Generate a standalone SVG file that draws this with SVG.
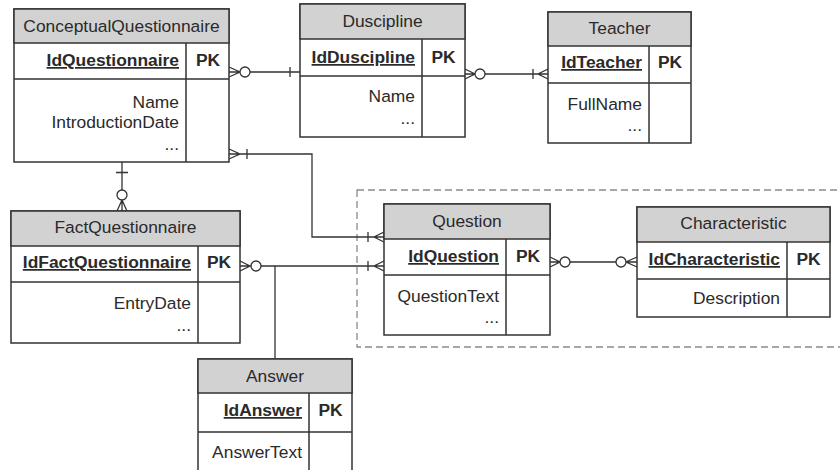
<svg xmlns="http://www.w3.org/2000/svg" width="840" height="470" viewBox="0 0 840 470">
  <style>
    text { font-family: "Liberation Sans", Arial, sans-serif; font-size: 17.4px; fill: #2a2a2a; }
    .hd { text-anchor: middle; }
    .key { font-weight: bold; text-anchor: end; text-decoration: underline; }
    .pk { font-weight: bold; text-anchor: middle; }
    .at { text-anchor: end; }
    .box { fill: #ffffff; stroke: #333333; stroke-width: 1.5; }
    .head { fill: #d2d2d2; stroke: #333333; stroke-width: 1.5; }
    .sep { stroke: #333333; stroke-width: 1.5; fill: none; }
    .ln { stroke: #333333; stroke-width: 1.3; fill: none; }
    .ring { stroke: #333333; stroke-width: 1.3; fill: #ffffff; }
    .group { fill: none; stroke: #8a8a8a; stroke-width: 1.3; stroke-dasharray: 7 4; }
  </style>

  <!-- boundary around Question and Characteristic -->
  <rect class="group" x="357" y="190" width="490" height="157"/>

  <!-- relationships -->
  <g id="connectors">
    <!-- ConceptualQuestionnaire - Duscipline -->
    <path class="ln" d="M229 72 H300 M229 67 L240 72 L229 77 M290 67 V77"/>
    <circle class="ring" cx="245" cy="72" r="5"/>
    <!-- Duscipline - Teacher -->
    <path class="ln" d="M465 74 H548 M465 69 L475 74 L465 79 M533 69 V79 M548 69 L538 74 L548 79"/>
    <circle class="ring" cx="480" cy="74" r="5"/>
    <!-- ConceptualQuestionnaire - FactQuestionnaire -->
    <path class="ln" d="M122 162 V211 M116 172.5 H128 M117 211 L122 200 L127 211"/>
    <circle class="ring" cx="122" cy="195" r="5"/>
    <!-- ConceptualQuestionnaire - Question -->
    <path class="ln" d="M229 154 H312 V237 H384 M229 149 L240 154 L229 159 M247 149 V159 M368 232 V242 M384 232 L374 237 L384 242"/>
    <!-- FactQuestionnaire - Question, with Answer branch -->
    <path class="ln" d="M240 266 H384 M240 261 L250 266 L240 271 M368 261 V271 M384 261 L374 266 L384 271 M275 266 V359"/>
    <circle class="ring" cx="256" cy="266" r="5"/>
    <!-- Question - Characteristic -->
    <path class="ln" d="M550 262 H637 M550 257 L560 262 L550 267 M637 257 L626 262 L637 267"/>
    <circle class="ring" cx="565" cy="262" r="5"/>
    <circle class="ring" cx="621" cy="262" r="5"/>
  </g>

  <g id="ConceptualQuestionnaire">
    <rect class="box" x="14" y="9" width="215" height="153"/>
    <rect class="head" x="14" y="9" width="215" height="34"/>
    <path class="sep" d="M14 79 H229 M186 43 V162"/>
    <text class="hd" x="121.5" y="32">ConceptualQuestionnaire</text>
    <text class="key" x="179" y="66">IdQuestionnaire</text>
    <text class="pk" x="208" y="66">PK</text>
    <text class="at" x="179" y="108">Name</text>
    <text class="at" x="179" y="128">IntroductionDate</text>
    <text class="at" x="179" y="150">...</text>
  </g>

  <g id="Duscipline">
    <rect class="box" x="300" y="4" width="165" height="133"/>
    <rect class="head" x="300" y="4" width="165" height="35"/>
    <path class="sep" d="M300 76 H465 M422 39 V137"/>
    <text class="hd" x="382.5" y="27">Duscipline</text>
    <text class="key" x="415" y="63">IdDuscipline</text>
    <text class="pk" x="443.5" y="63">PK</text>
    <text class="at" x="415" y="102">Name</text>
    <text class="at" x="415" y="124">...</text>
  </g>

  <g id="Teacher">
    <rect class="box" x="548" y="12" width="143" height="131"/>
    <rect class="head" x="548" y="12" width="143" height="34"/>
    <path class="sep" d="M548 83 H691 M649 46 V143"/>
    <text class="hd" x="619.5" y="34">Teacher</text>
    <text class="key" x="642" y="68">IdTeacher</text>
    <text class="pk" x="670" y="68">PK</text>
    <text class="at" x="642" y="110">FullName</text>
    <text class="at" x="642" y="131">...</text>
  </g>

  <g id="FactQuestionnaire">
    <rect class="box" x="11" y="211" width="229" height="132"/>
    <rect class="head" x="11" y="211" width="229" height="35"/>
    <path class="sep" d="M11 282 H240 M198 246 V343"/>
    <text class="hd" x="125.5" y="233">FactQuestionnaire</text>
    <text class="key" x="191" y="268">IdFactQuestionnaire</text>
    <text class="pk" x="219" y="268">PK</text>
    <text class="at" x="191" y="309">EntryDate</text>
    <text class="at" x="191" y="331">...</text>
  </g>

  <g id="Question">
    <rect class="box" x="384" y="204" width="166" height="131"/>
    <rect class="head" x="384" y="204" width="166" height="35"/>
    <path class="sep" d="M384 275 H550 M506 239 V335"/>
    <text class="hd" x="467" y="227">Question</text>
    <text class="key" x="499" y="262">IdQuestion</text>
    <text class="pk" x="528" y="262">PK</text>
    <text class="at" x="499" y="302">QuestionText</text>
    <text class="at" x="499" y="323">...</text>
  </g>

  <g id="Characteristic">
    <rect class="box" x="637" y="207" width="193" height="110"/>
    <rect class="head" x="637" y="207" width="193" height="35"/>
    <path class="sep" d="M637 279 H830 M787 242 V317"/>
    <text class="hd" x="733.5" y="229">Characteristic</text>
    <text class="key" x="780" y="265">IdCharacteristic</text>
    <text class="pk" x="808.5" y="265">PK</text>
    <text class="at" x="780" y="304">Description</text>
  </g>

  <g id="Answer">
    <rect class="box" x="198" y="359" width="154" height="116"/>
    <rect class="head" x="198" y="359" width="154" height="34"/>
    <path class="sep" d="M198 432 H352 M309 393 V475"/>
    <text class="hd" x="275" y="382">Answer</text>
    <text class="key" x="302" y="416">IdAnswer</text>
    <text class="pk" x="330.5" y="416">PK</text>
    <text class="at" x="302" y="458">AnswerText</text>
  </g>
</svg>
